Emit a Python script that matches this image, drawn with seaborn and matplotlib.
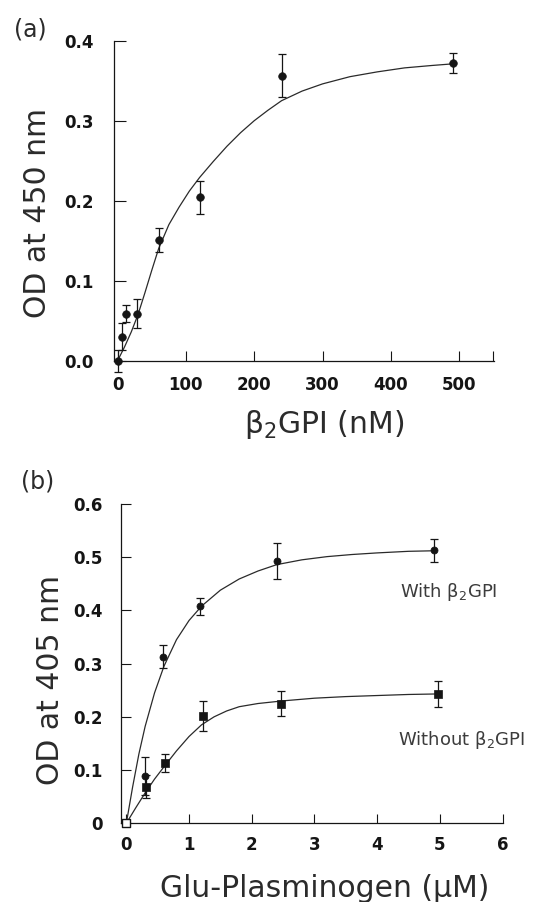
import matplotlib
matplotlib.use("Agg")
import matplotlib.pyplot as plt
import seaborn as sns
import pandas as pd

# ---------------- data ----------------
# panel (a)
conc_a = [0, 6, 12, 29, 60, 121, 241, 491]
od_a = [0.0, 0.030, 0.059, 0.059, 0.151, 0.204, 0.356, 0.372]
err_a = [0.014, 0.017, 0.011, 0.018, 0.015, 0.021, 0.027, 0.012]
fit_x_a = [0, 10, 20, 30, 40, 50, 60, 75, 90, 105, 120, 140, 160, 180, 200,
           220, 240, 270, 300, 340, 380, 420, 460, 490]
fit_y_a = [0.0, 0.017, 0.036, 0.058, 0.085, 0.113, 0.140, 0.170, 0.192, 0.212,
           0.229, 0.249, 0.268, 0.285, 0.300, 0.313, 0.325, 0.337, 0.346, 0.355,
           0.361, 0.366, 0.369, 0.371]
xticks_a = [0, 100, 200, 300, 400, 500, 550]
xticklabels_a = ["0", "100", "200", "300", "400", "500", ""]
yticks_a = [0.0, 0.1, 0.2, 0.3, 0.4]
yticklabels_a = ["0.0", "0.1", "0.2", "0.3", "0.4"]

# panel (b)
conc_with = [0, 0.29, 0.58, 1.175, 2.41, 4.91]
od_with = [0.0, 0.089, 0.313, 0.408, 0.493, 0.513]
err_with = [0.0, 0.035, 0.022, 0.016, 0.034, 0.022]
conc_without = [0, 0.31, 0.61, 1.22, 2.46, 4.97]
od_without = [0.0, 0.069, 0.113, 0.201, 0.225, 0.243]
err_without = [0.0, 0.022, 0.017, 0.028, 0.023, 0.025]
fit_x_with = [0, 0.1, 0.2, 0.3, 0.45, 0.6, 0.8, 1.0, 1.2, 1.5, 1.8, 2.1, 2.4,
              2.8, 3.2, 3.6, 4.0, 4.5, 4.9]
fit_y_with = [0.0, 0.068, 0.130, 0.182, 0.245, 0.295, 0.345, 0.381, 0.408,
              0.438, 0.459, 0.474, 0.486, 0.495, 0.501, 0.505, 0.508, 0.511, 0.512]
fit_x_without = [0, 0.15, 0.3, 0.45, 0.6, 0.8, 1.0, 1.2, 1.4, 1.6, 1.8, 2.1,
                 2.5, 3.0, 3.5, 4.0, 4.5, 4.97]
fit_y_without = [0.0, 0.029, 0.057, 0.083, 0.106, 0.136, 0.163, 0.185, 0.200,
                 0.211, 0.219, 0.225, 0.230, 0.235, 0.238, 0.240, 0.242, 0.243]
xticks_b = [0, 1, 2, 3, 4, 5, 6]
xticklabels_b = ["0", "1", "2", "3", "4", "5", "6"]
yticks_b = [0.0, 0.1, 0.2, 0.3, 0.4, 0.5, 0.6]
yticklabels_b = ["0", "0.1", "0.2", "0.3", "0.4", "0.5", "0.6"]

# ---------------- style ----------------
sns.set_style("ticks")
plt.rcParams["font.family"] = ["DejaVu Sans"]
plt.rcParams["mathtext.fontset"] = "dejavusans"

INK = "#151515"
LINE = "#2a2a2a"
LABEL_FS = 21.5
TICK_FS = 12

fig = plt.figure(figsize=(5.39, 9.02), dpi=100)
ax_a = fig.add_axes([0.2106, 0.6001, 0.706, 0.3548])
ax_b = fig.add_axes([0.2245, 0.0873, 0.7078, 0.354])


def style_axes(ax, xticks, xlabels, yticks, ylabels, xlen, ylen, xpad, ypad):
    for s in ["top", "right"]:
        ax.spines[s].set_visible(False)
    for s in ["left", "bottom"]:
        ax.spines[s].set_linewidth(0.9)
        ax.spines[s].set_color(INK)
    ax.set_xticks(xticks)
    ax.set_xticklabels(xlabels)
    ax.set_yticks(yticks)
    ax.set_yticklabels(ylabels)
    ax.tick_params(axis="x", direction="in", length=xlen, width=0.8,
                   color=INK, pad=xpad, labelsize=TICK_FS)
    ax.tick_params(axis="y", direction="in", length=ylen, width=0.8,
                   color=INK, pad=ypad, labelsize=TICK_FS)
    for lab in ax.get_xticklabels() + ax.get_yticklabels():
        lab.set_fontweight("bold")
        lab.set_color(INK)
    ax.set_xlabel("")
    ax.set_ylabel("")
    ax.grid(False)


# ---------------- panel (a) ----------------
df_fit_a = pd.DataFrame({"x": fit_x_a, "y": fit_y_a})
sns.lineplot(data=df_fit_a, x="x", y="y", ax=ax_a, color=LINE, lw=0.9,
             sort=False, estimator=None)
ax_a.errorbar(conc_a, od_a, yerr=err_a, fmt="none", ecolor=INK,
              elinewidth=0.9, capsize=2.6, capthick=0.9, clip_on=False, zorder=3)
df_a = pd.DataFrame({"x": conc_a, "y": od_a})
sns.scatterplot(data=df_a, x="x", y="y", ax=ax_a, color=INK, s=30,
                marker="o", edgecolor=INK, linewidth=0.5, zorder=4, clip_on=False)
ax_a.set_xlim(-6, 551)
ax_a.set_ylim(0, 0.4)
style_axes(ax_a, xticks_a, xticklabels_a, yticks_a, yticklabels_a,
           7.0, 8.5, 11.0, 14.0)

# ---------------- panel (b) ----------------
df_fit_w = pd.DataFrame({"x": fit_x_with, "y": fit_y_with})
df_fit_wo = pd.DataFrame({"x": fit_x_without, "y": fit_y_without})
sns.lineplot(data=df_fit_w, x="x", y="y", ax=ax_b, color=LINE, lw=0.9,
             sort=False, estimator=None)
sns.lineplot(data=df_fit_wo, x="x", y="y", ax=ax_b, color=LINE, lw=0.9,
             sort=False, estimator=None)
ax_b.errorbar(conc_with[1:], od_with[1:], yerr=err_with[1:], fmt="none",
              ecolor=INK, elinewidth=0.9, capsize=2.6, capthick=0.9,
              clip_on=False, zorder=3)
ax_b.errorbar(conc_without[1:], od_without[1:], yerr=err_without[1:], fmt="none",
              ecolor=INK, elinewidth=0.9, capsize=2.6, capthick=0.9,
              clip_on=False, zorder=3)
df_w = pd.DataFrame({"x": conc_with[1:], "y": od_with[1:]})
df_wo = pd.DataFrame({"x": conc_without[1:], "y": od_without[1:]})
sns.scatterplot(data=df_w, x="x", y="y", ax=ax_b, color=INK, s=26,
                marker="o", edgecolor=INK, linewidth=0.5, zorder=4, clip_on=False)
sns.scatterplot(data=df_wo, x="x", y="y", ax=ax_b, color=INK, s=30,
                marker="s", edgecolor=INK, linewidth=0.5, zorder=4, clip_on=False)
df_origin = pd.DataFrame({"x": conc_without[:1], "y": od_without[:1]})
sns.scatterplot(data=df_origin, x="x", y="y", ax=ax_b, color="white", s=34,
                marker="s", edgecolor=INK, linewidth=1.0, zorder=5, clip_on=False)
ax_b.set_xlim(-0.085, 6.0)
ax_b.set_ylim(0, 0.6)
style_axes(ax_b, xticks_b, xticklabels_b, yticks_b, yticklabels_b,
           6.5, 7.5, 9.0, 13.0)

# ---------------- texts ----------------
TXT = "#2b2b2b"
fig.text(0.0557, 0.9678, "(a)", fontsize=17, color=TXT, ha="center", va="center")
fig.text(0.0705, 0.4667, "(b)", fontsize=17, color=TXT, ha="center", va="center")
fig.text(0.0705, 0.7644, "OD at 450 nm", fontsize=LABEL_FS, color=TXT,
         rotation=90, ha="center", va="center")
fig.text(0.0928, 0.2461, "OD at 405 nm", fontsize=LABEL_FS, color=TXT,
         rotation=90, ha="center", va="center")
fig.text(324 / 539, 0.5202, r"$\mathregular{\beta_2}$GPI (nM)", fontsize=LABEL_FS,
         color=TXT, ha="center", va="baseline")
fig.text(325 / 539, 0.0052, "Glu-Plasminogen (\u03bcM)", fontsize=LABEL_FS,
         color=TXT, ha="center", va="baseline")
fig.text(400 / 539, 1 - 596.7 / 902, r"With $\mathregular{\beta_2}$GPI", fontsize=13,
         color="#3c3c3c", ha="left", va="baseline")
fig.text(398 / 539, 1 - 745 / 902, r"Without $\mathregular{\beta_2}$GPI", fontsize=13,
         color="#3c3c3c", ha="left", va="baseline")

fig.savefig("out.png", dpi=100, facecolor="white")
